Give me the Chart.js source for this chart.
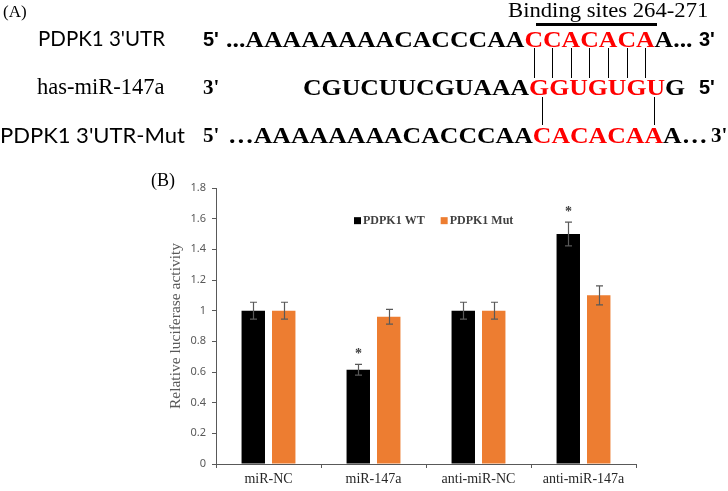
<!DOCTYPE html>
<html>
<head>
<meta charset="utf-8">
<script src="https://cdn.jsdelivr.net/npm/chart.js@4.4.0/dist/chart.umd.min.js"></script>
<style>
  body { margin: 0; background: #fff; }
  #wrap { position: relative; width: 728px; height: 491px; overflow: hidden; }
  #chart { position: absolute; left: 0; top: 0; }
  .t { position: absolute; white-space: pre; line-height: 1; color: #000; }
  .serif { font-family: "Liberation Serif", "Times New Roman", serif; }
  .sans { font-family: "Lato", "Liberation Sans", sans-serif; }
  .sansb { font-family: "Liberation Sans", sans-serif; font-weight: bold; }
  .b { font-weight: bold; }
  .seq { font-size: 23px; transform: scaleX(1.12); transform-origin: 0 0; }
  .red { color: #f00; }
  .ln { position: absolute; background: #000; }
</style>
</head>
<body>
<div id="wrap">
  <canvas id="chart" width="728" height="491"></canvas>

  <!-- panel A: secuencias -->
  <div class="t serif" style="left:3px;top:3px;font-size:17px;">(A)</div>
  <div class="t serif" style="left:508px;top:0px;font-size:21px;transform:scaleX(1.08);transform-origin:0 0;">Binding sites 264-271</div>
  <div class="ln" style="left:536px;top:23px;width:121px;height:3px;"></div>

  <div class="t sans" style="left:38px;top:28px;font-size:20.5px;">PDPK1 3'UTR</div>
  <div class="t sansb" style="left:203px;top:29px;font-size:20px;">5'</div>
  <div class="t serif b seq" style="left:226px;top:28px;">...AAAAAAAACACCCAA<span class="red" id="s1">CCACACA</span>A...</div>
  <div class="t sansb" style="left:699px;top:29px;font-size:20px;">3'</div>

  <div class="t serif" style="left:37px;top:76px;font-size:22.5px;">has-miR-147a</div>
  <div class="t serif b" style="left:203px;top:77px;font-size:21px;">3'</div>
  <div class="t serif b seq" style="left:303px;top:76px;">CGUCUUCGUAAA<span class="red" id="s2">GGUGUGU</span>G</div>
  <div class="t sansb" style="left:699px;top:77px;font-size:20px;">5'</div>

  <div class="t sans" style="left:0px;top:124px;font-size:22px;">PDPK1 3'UTR-Mut</div>
  <div class="t serif b" style="left:203px;top:125px;font-size:21px;">5'</div>
  <div class="t serif b seq" style="left:228px;top:124px;">…AAAAAAAACACCCAA<span class="red" id="s3">CACACAA</span>A…</div>
  <div class="t serif b" style="left:711px;top:125px;font-size:21px;">3'</div>

  <div class="t serif" style="left:151px;top:171px;font-size:18px;">(B)</div>
</div>

<script>
// datos del grafico (B)
const categorias = ['miR-NC', 'miR-147a', 'anti-miR-NC', 'anti-miR-147a'];
const valoresWT = [1.0, 0.615, 1.0, 1.5];
const valoresMut = [1.0, 0.96, 1.0, 1.1];
const errorWT = [0.055, 0.035, 0.055, 0.077];
const errorMut = [0.055, 0.048, 0.055, 0.062];
const significativoWT = [false, true, false, true];
const nombresSeries = ['PDPK1 WT', 'PDPK1 Mut'];
const coloresSeries = ['#000000', '#ED7D31'];
const ticksY = [0, 0.2, 0.4, 0.6, 0.8, 1, 1.2, 1.4, 1.6, 1.8];

const gris = '#595959';

// lineas de apareamiento entre las bases (centro de cada letra roja)
function centrosLetras(id) {
  const nodo = document.getElementById(id).firstChild;
  const wrap = document.getElementById('wrap').getBoundingClientRect();
  const centros = [];
  for (let i = 0; i < nodo.length; i++) {
    const r = document.createRange();
    r.setStart(nodo, i);
    r.setEnd(nodo, i + 1);
    const b = r.getBoundingClientRect();
    centros.push(b.left - wrap.left + b.width / 2);
  }
  return centros;
}

function lineaVertical(x, y1, y2) {
  const d = document.createElement('div');
  d.className = 'ln';
  d.style.left = Math.round(x) + 'px';
  d.style.top = y1 + 'px';
  d.style.width = '1px';
  d.style.height = (y2 - y1) + 'px';
  document.getElementById('wrap').appendChild(d);
}

const c1 = centrosLetras('s1');
const c3 = centrosLetras('s3');
c1.forEach(function (x) { lineaVertical(x, 48, 78); });
lineaVertical(c3[0], 97, 125);
lineaVertical(c3[c3.length - 1], 97, 125);

// barras de error y asteriscos
const errorBars = {
  id: 'errorBars',
  afterDatasetsDraw(chart) {
    const ctx = chart.ctx;
    const y = chart.scales.y;
    const errores = [errorWT, errorMut];
    ctx.save();
    ctx.strokeStyle = gris;
    ctx.lineWidth = 1.2;
    chart.data.datasets.forEach(function (ds, d) {
      const meta = chart.getDatasetMeta(d);
      meta.data.forEach(function (bar, i) {
        const v = ds.data[i];
        const e = errores[d][i];
        const x = Math.round(bar.x) + 0.5;
        const yTop = y.getPixelForValue(v + e);
        const yBot = y.getPixelForValue(v - e);
        ctx.beginPath();
        ctx.moveTo(x, yTop); ctx.lineTo(x, yBot);
        ctx.moveTo(x - 3.5, yTop); ctx.lineTo(x + 3.5, yTop);
        ctx.moveTo(x - 3.5, yBot); ctx.lineTo(x + 3.5, yBot);
        ctx.stroke();
        if (d === 0 && significativoWT[i]) {
          ctx.fillStyle = '#404040';
          ctx.font = 'bold 14px "Liberation Serif"';
          ctx.textAlign = 'center';
          ctx.textBaseline = 'middle';
          ctx.fillText('*', x, yTop - 10);
        }
      });
    });
    ctx.restore();
  }
};

// leyenda dentro del area del grafico
const leyenda = {
  id: 'leyenda',
  afterDraw(chart) {
    const ctx = chart.ctx;
    const yc = chart.scales.y.getPixelForValue(1.6) + 2;
    let x = 354;
    ctx.save();
    ctx.font = 'bold 12px "Liberation Serif"';
    ctx.textBaseline = 'middle';
    ctx.textAlign = 'left';
    nombresSeries.forEach(function (n, i) {
      ctx.fillStyle = coloresSeries[i];
      ctx.fillRect(x, yc - 3.5, 7, 7);
      ctx.fillStyle = '#404040';
      ctx.fillText(n, x + 9, yc);
      x += 9 + ctx.measureText(n).width + 16;
    });
    ctx.restore();
  }
};

const ctx = document.getElementById('chart');

new Chart(ctx, {
  type: 'bar',
  data: {
    labels: categorias,
    datasets: [
      { label: nombresSeries[0], data: valoresWT, backgroundColor: coloresSeries[0] },
      { label: nombresSeries[1], data: valoresMut, backgroundColor: coloresSeries[1] }
    ]
  },
  options: {
    responsive: false,
    animation: false,
    devicePixelRatio: 1,
    layout: { padding: { left: 150, top: 188, right: 92, bottom: 0 } },
    datasets: { bar: { categoryPercentage: 0.58, barPercentage: 0.77 } },
    plugins: { legend: { display: false }, tooltip: { enabled: false } },
    scales: {
      x: {
        afterFit: function (s) { s.height = 27; },
        grid: { offset: true, drawOnChartArea: false, drawTicks: true, tickLength: 4, color: gris },
        border: { color: gris, width: 1 },
        ticks: { color: '#262626', padding: 3, font: { family: 'Liberation Serif', size: 14 } }
      },
      y: {
        min: 0,
        max: 1.8,
        afterFit: function (s) { s.width = 66; },
        afterBuildTicks: function (s) { s.ticks = ticksY.map(function (v) { return { value: v }; }); },
        grid: { drawOnChartArea: false, drawTicks: true, tickLength: 4, color: gris },
        border: { color: gris, width: 1 },
        ticks: {
          color: gris,
          padding: 6,
          font: { family: 'Noto Sans', size: 11 },
          callback: function (v) { return String(+v.toFixed(1)); }
        },
        title: {
          display: true,
          text: 'Relative luciferase activity',
          color: gris,
          padding: { top: 17, bottom: 0 },
          font: { family: 'Liberation Serif', size: 15.5 }
        }
      }
    }
  },
  plugins: [errorBars, leyenda]
});
</script>
</body>
</html>
